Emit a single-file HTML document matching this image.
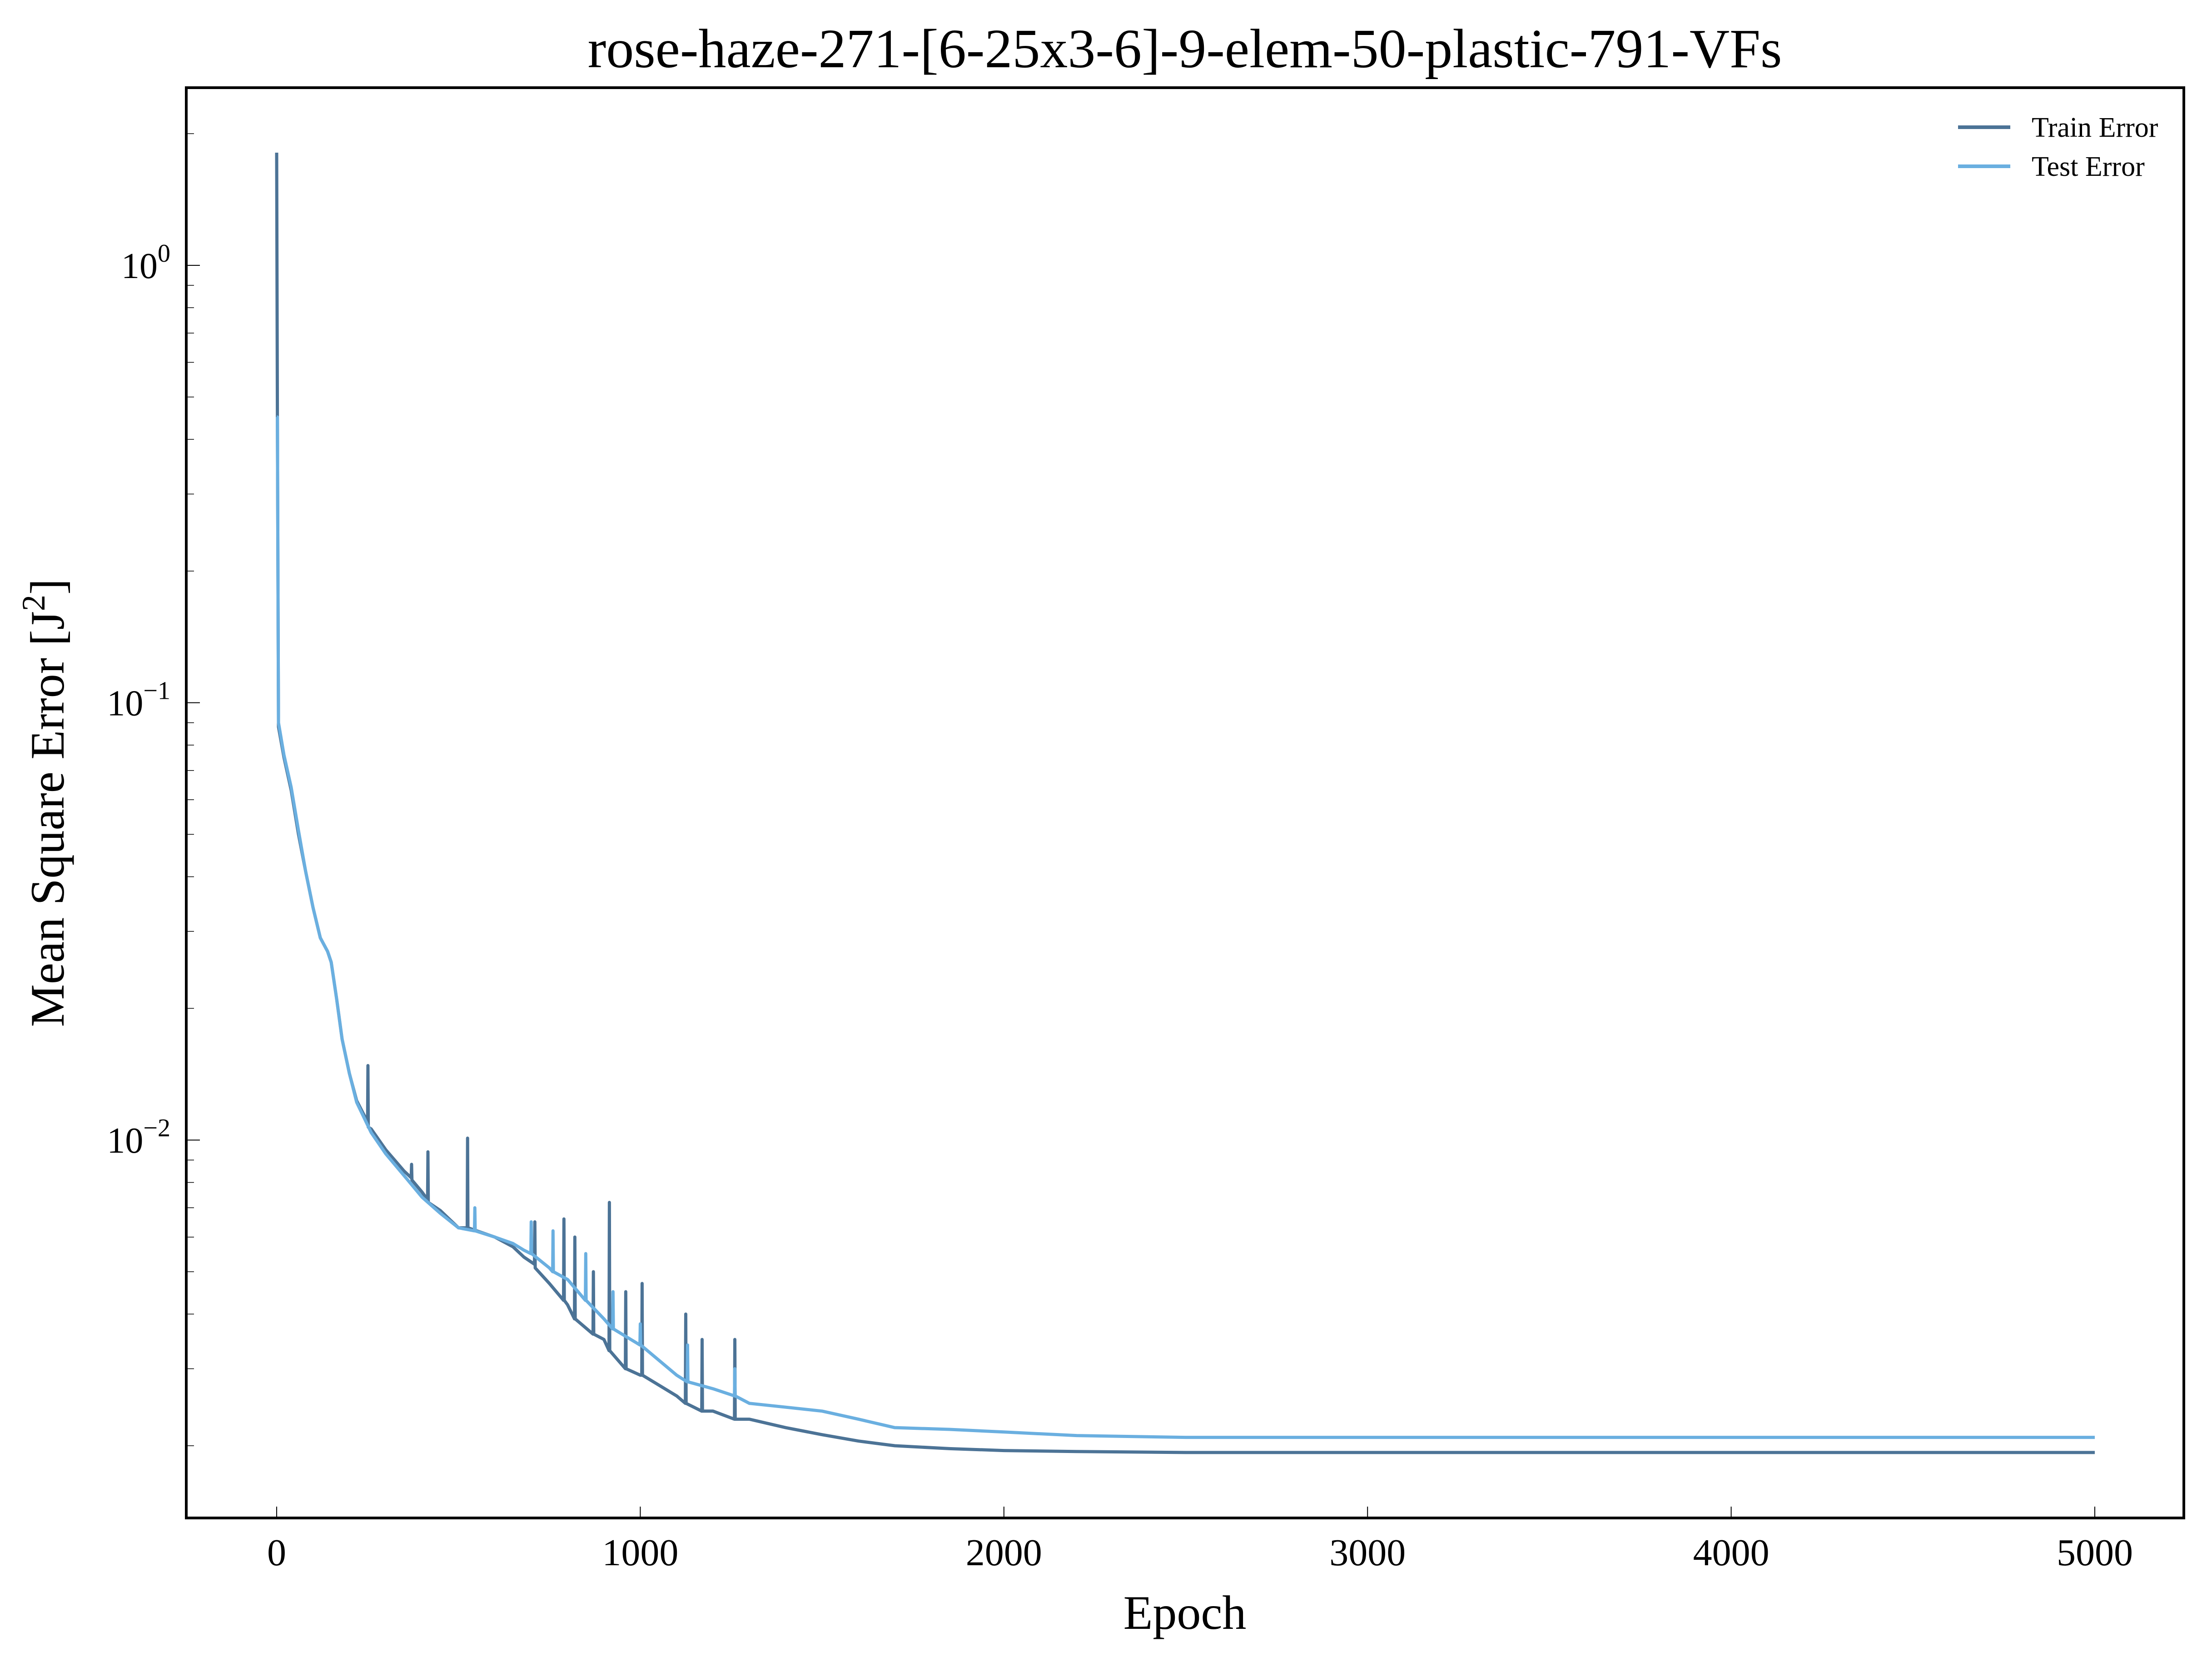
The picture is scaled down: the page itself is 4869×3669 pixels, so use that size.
<!DOCTYPE html>
<html><head><meta charset="utf-8"><style>
html,body{margin:0;padding:0;background:#fff;}
svg{display:block;font-family:"Liberation Serif",serif;}
</style></head><body>
<svg id="chart" width="4869" height="3669" viewBox="0 0 4869 3669" xmlns="http://www.w3.org/2000/svg">
<rect width="4869" height="3669" fill="#fff"/>
<text x="2608" y="148" font-size="122" text-anchor="middle">rose-haze-271-[6-25x3-6]-9-elem-50-plastic-791-VFs</text>
<g id="plot"></g>
<rect x="410" y="193" width="4397" height="3148" fill="none" stroke="#000" stroke-width="6"/>
<text x="2608" y="3585" font-size="106" text-anchor="middle">Epoch</text>
<text transform="translate(140,1767) rotate(-90)" font-size="106" text-anchor="middle">Mean Square Error [J<tspan dy="-42" font-size="72">2</tspan><tspan dy="42">]</tspan></text>
<g>
<line x1="4310" y1="280" x2="4425" y2="280" stroke="#4c7396" stroke-width="8"/>
<text x="4472" y="301" font-size="62">Train Error</text>
<line x1="4310" y1="366" x2="4425" y2="366" stroke="#6aafe0" stroke-width="8"/>
<text x="4472" y="387" font-size="62">Test Error</text>
</g>
</svg>
<script>
const xTicks=[0,1000,2000,3000,4000,5000];
const yDecades=[0,-1,-2];
const trainEpochs=[0,2,5,20,40,60,80,100,120,140,150,165,180,200,220,250,251,252,260,300,350,370,371,372,400,415,416,417,450,500,524,525,526,600,650,680,709,710,711,750,789,790,791,800,819,820,821,870,871,872,900,914,915,916,959,960,961,1000,1004,1005,1006,1100,1124,1125,1126,1169,1170,1171,1200,1259,1260,1261,1300,1400,1500,1600,1700,1850,2000,2200,2500,5000];
const trainVals=[1.81,0.45,0.088,0.075,0.063,0.05,0.041,0.034,0.029,0.027,0.0255,0.021,0.017,0.0142,0.0123,0.011,0.0148,0.0107,0.0106,0.0095,0.0085,0.0082,0.0088,0.0081,0.0076,0.0073,0.0094,0.0072,0.0069,0.0063,0.0063,0.0101,0.0063,0.006,0.0057,0.0054,0.0052,0.0065,0.0051,0.0047,0.0043,0.0066,0.0043,0.0042,0.0039,0.006,0.0039,0.0036,0.005,0.0036,0.0035,0.0033,0.0072,0.0033,0.003,0.0045,0.003,0.0029,0.0029,0.0047,0.0029,0.0026,0.0025,0.004,0.0025,0.0024,0.0035,0.0024,0.0024,0.0023,0.0035,0.0023,0.0023,0.0022,0.00212,0.00205,0.00200,0.00197,0.00195,0.00194,0.00193,0.00193];
const testEpochs=[0,2,5,20,40,60,80,100,120,140,150,165,180,200,220,260,300,350,400,450,500,544,545,546,600,650,680,699,700,701,750,759,760,761,800,849,850,851,900,924,925,926,999,1000,1001,1100,1129,1130,1131,1200,1259,1260,1261,1300,1400,1500,1600,1700,1850,2000,2200,2500,5000];
const testVals=[0.45,0.45,0.09,0.076,0.064,0.051,0.041,0.034,0.029,0.027,0.0255,0.021,0.017,0.0142,0.0122,0.0104,0.0093,0.0083,0.0074,0.0068,0.0063,0.0062,0.007,0.0062,0.006,0.0058,0.0056,0.0055,0.0065,0.0055,0.0051,0.005,0.0062,0.005,0.0048,0.0043,0.0055,0.0043,0.0039,0.0037,0.0045,0.0037,0.0034,0.0038,0.0034,0.0029,0.0028,0.0034,0.0028,0.0027,0.0026,0.003,0.0026,0.0025,0.00245,0.0024,0.0023,0.0022,0.00218,0.00215,0.00211,0.00209,0.00209];
const X0=609,X1=4611,Y0=584,DEC=962.6;
function xs(e){return X0+e*(X1-X0)/5000;}
function ys(v){return Y0-Math.log10(v)*DEC;}
const NS="http://www.w3.org/2000/svg";
const g=document.getElementById('plot');
function mk(t,a){const el=document.createElementNS(NS,t);for(const k in a)el.setAttribute(k,a[k]);return el;}
xTicks.forEach(t=>{
 const l=mk('line',{x1:xs(t),x2:xs(t),y1:3341,y2:3316,stroke:'#000','stroke-width':2});
 
 
 g.appendChild(l);
 const tx=mk('text',{x:xs(t),y:3445,'font-size':84,'text-anchor':'middle'});
 
 
 tx.textContent=t;g.appendChild(tx);
});
yDecades.forEach(d=>{
 const y=ys(Math.pow(10,d));
 const l=mk('line',{x1:410,x2:440,y1:y,y2:y,stroke:'#000','stroke-width':2});
 
 
 g.appendChild(l);
 const tx=mk('text',{x:375,y:y+28,'font-size':80,'text-anchor':'end'});
 
 
 tx.innerHTML='10<tspan dy="-36" font-size="56">'+(d===0?'0':'\u2212'+(-d))+'</tspan>';
 g.appendChild(tx);
});
[1,0.1,0.01,0.001].forEach(base=>{
 for(let m=2;m<=9;m++){
  const yy=ys(m*base);
  if(yy<193||yy>3341)continue;
  const ml=mk('line',{x1:410,x2:427,y1:yy,y2:yy,stroke:'#000','stroke-width':1.5});
  
  
  g.appendChild(ml);
 }
});
function series(ep,vals,color,name){
 const p=mk('polyline',{points:ep.map((e,i)=>xs(e)+','+ys(vals[i])).join(' '),fill:'none',stroke:color,'stroke-width':7,'stroke-linejoin':'round'});
 
 
 g.appendChild(p);
}
series(trainEpochs,trainVals,'#4c7396','train-error-line');
series(testEpochs,testVals,'#6aafe0','test-error-line');
</script>
</body></html>
